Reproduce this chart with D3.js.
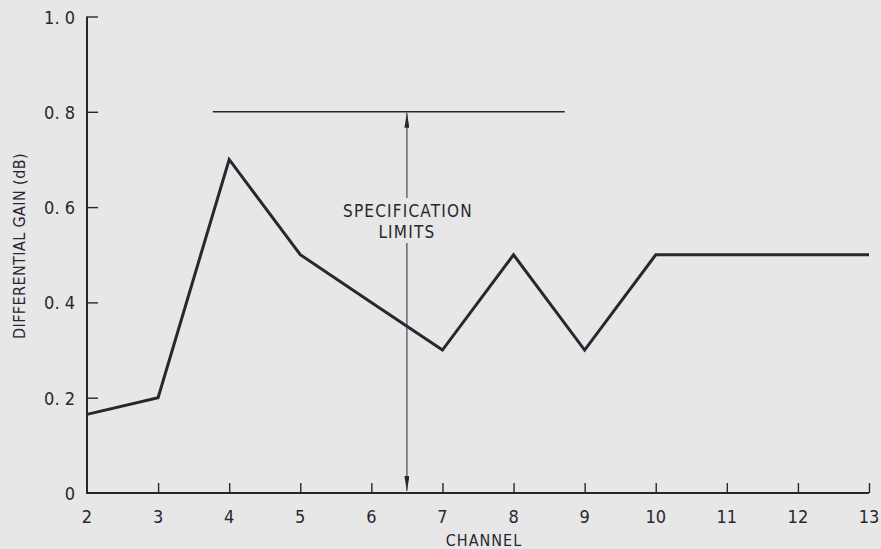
<!DOCTYPE html>
<html>
<head>
<meta charset="utf-8">
<script src="https://cdn.jsdelivr.net/npm/d3@7"></script>
<style>
  html, body { margin: 0; padding: 0; background: #e6e7e6; }
  svg { display: block; }
  text { font-family: "DejaVu Sans", sans-serif; font-stretch: condensed; fill: #2b2530; }
</style>
</head>
<body>
<svg id="chart" width="881" height="549"></svg>
<script>
// Differential gain measured on each channel
const channels = [2, 3, 4, 5, 6, 7, 8, 9, 10, 11, 12, 13];
const gainDb   = [0.165, 0.20, 0.70, 0.50, 0.40, 0.30, 0.50, 0.30, 0.50, 0.50, 0.50, 0.50];

// Specification limit line and its span
const specLimit = 0.8;
const specSpan = [3.77, 8.72];
const specArrowChannel = 6.5;
const specLabel = ["SPECIFICATION", "LIMITS"];

const xTicks = [2, 3, 4, 5, 6, 7, 8, 9, 10, 11, 12, 13];
const yTicks = [0, 0.2, 0.4, 0.6, 0.8, 1.0];
const yTickLabels = ["0", "0. 2", "0. 4", "0. 6", "0. 8", "1. 0"];

const ink = "#2b2530";
const svg = d3.select("#chart");

const x = d3.scaleLinear().domain([2, 13]).range([87, 869]);
const y = d3.scaleLinear().domain([0, 1]).range([493, 16.5]);

// Axes: ticks point inward, labels drawn separately
const xAxis = d3.axisTop(x).tickValues(xTicks.slice(1)).tickSize(10).tickFormat("");
svg.append("g").attr("transform", `translate(0,${y(0)})`).call(xAxis)
  .call(g => g.select(".domain").remove())
  .call(g => g.selectAll(".tick line").attr("stroke", ink).attr("stroke-width", 1.4));

const yAxis = d3.axisRight(y).tickValues(yTicks.slice(1)).tickSize(11).tickFormat("");
svg.append("g").attr("transform", `translate(${x(2)},0)`).call(yAxis)
  .call(g => g.select(".domain").remove())
  .call(g => g.selectAll(".tick line").attr("stroke", ink).attr("stroke-width", 1.4));

// Axis frame (left and bottom)
svg.append("path")
  .attr("d", `M${x(2)},${y(1)}V${y(0)}H${x(13)}`)
  .attr("fill", "none").attr("stroke", ink).attr("stroke-width", 2);

// Tick labels
svg.append("g").selectAll("text").data(xTicks).join("text")
  .attr("x", d => x(d)).attr("y", y(0) + 30)
  .attr("text-anchor", "middle").attr("font-size", 18)
  .text(d => d);

svg.append("g").selectAll("text").data(yTicks).join("text")
  .attr("x", x(2) - 12).attr("y", d => y(d) + 7)
  .attr("text-anchor", "end").attr("font-size", 18)
  .text((d, i) => yTickLabels[i]);

// Axis titles
svg.append("text")
  .attr("x", 484).attr("y", 546)
  .attr("text-anchor", "middle").attr("font-size", 16).attr("letter-spacing", 1)
  .text("CHANNEL");

svg.append("text")
  .attr("transform", `translate(25,246) rotate(-90)`)
  .attr("text-anchor", "middle").attr("font-size", 16).attr("letter-spacing", 0.4)
  .text("DIFFERENTIAL GAIN (dB)");

// Specification limit
svg.append("line")
  .attr("x1", x(specSpan[0])).attr("x2", x(specSpan[1]))
  .attr("y1", y(specLimit)).attr("y2", y(specLimit))
  .attr("stroke", ink).attr("stroke-width", 1.6);

const defs = svg.append("defs");
defs.append("marker")
  .attr("id", "arrow").attr("viewBox", "0 0 10 10")
  .attr("preserveAspectRatio", "none")
  .attr("refX", 10).attr("refY", 5)
  .attr("markerWidth", 15).attr("markerHeight", 5)
  .attr("markerUnits", "userSpaceOnUse")
  .attr("orient", "auto")
  .append("path").attr("d", "M0,0L10,5L0,10Z").attr("fill", ink);

const ax = x(specArrowChannel);
const labelTop = 198, labelBottom = 243;
svg.append("line")
  .attr("x1", ax).attr("x2", ax)
  .attr("y1", labelTop).attr("y2", y(specLimit) + 1)
  .attr("stroke", ink).attr("stroke-width", 1)
  .attr("marker-end", "url(#arrow)");
svg.append("line")
  .attr("x1", ax).attr("x2", ax)
  .attr("y1", labelBottom).attr("y2", y(0) - 2)
  .attr("stroke", ink).attr("stroke-width", 1)
  .attr("marker-end", "url(#arrow)");

svg.append("g").selectAll("text").data(specLabel).join("text")
  .attr("x", (d, i) => i === 0 ? ax + 1 : ax)
  .attr("y", (d, i) => 217 + i * 21)
  .attr("text-anchor", "middle").attr("font-size", 17).attr("letter-spacing", 1.2)
  .text(d => d);

// Measured gain line
const line = d3.line().x((d, i) => x(channels[i])).y(d => y(d));
svg.append("path")
  .datum(gainDb)
  .attr("d", line)
  .attr("fill", "none").attr("stroke", ink)
  .attr("stroke-width", 3).attr("stroke-linejoin", "miter");
</script>
</body>
</html>
